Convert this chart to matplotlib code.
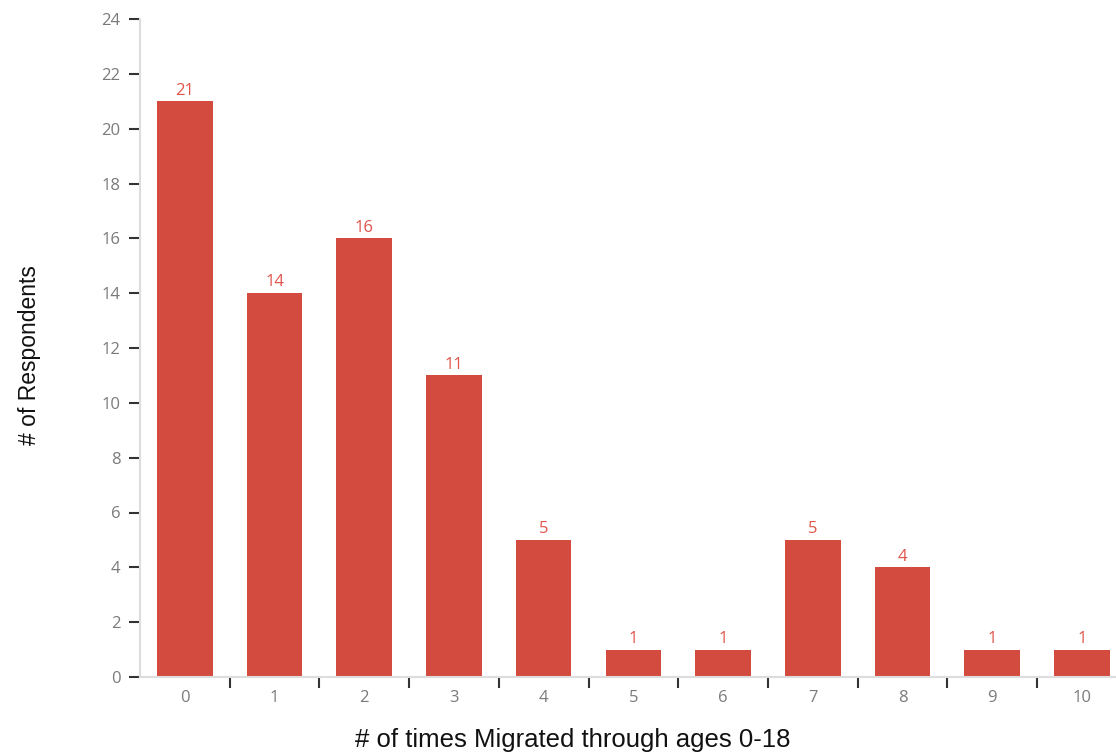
import matplotlib
matplotlib.use("Agg")
import matplotlib.pyplot as plt
import numpy as np

categories = ["0", "1", "2", "3", "4", "5", "6", "7", "8", "9", "10"]
counts = [21, 14, 16, 11, 5, 1, 1, 5, 4, 1, 1]
yticks = list(range(0, 25, 2))

bar_color = "#d34a3f"
label_color = "#e0544a"

fig = plt.figure(figsize=(11.16, 7.56), dpi=100)
W, H = 1116, 756
left, right, top, bottom = 140, 1116, 19, 677
ax = fig.add_axes([left / W, 1 - bottom / H, (right - left) / W, (bottom - top) / H])

x = np.arange(len(categories))
ax.bar(x, counts, width=0.62, color=bar_color, zorder=2)

for xi, v in zip(x, counts):
    ax.text(xi, v + 0.1, str(v), ha="center", va="bottom", color=label_color,
            fontsize=12, family="Open Sans")

ax.set_xlim(-0.5, -0.5 + (right - left) / 89.7)
ax.set_ylim(0, 24)
ax.set_yticks(yticks)
ax.set_yticklabels([str(t) for t in yticks], family="Open Sans", fontsize=12, color="#7a7a7a")
ax.set_xticks(x)
ax.set_xticklabels(categories, family="Open Sans", fontsize=12, color="#7a7a7a")
ax.set_xticks(x[:-1] + 0.5, minor=True)

ax.tick_params(axis="x", which="major", length=0, pad=9)
ax.tick_params(axis="x", which="minor", length=8, width=1.5, color="#333333", direction="out")
ax.tick_params(axis="y", which="major", length=8, width=1.5, color="#333333", pad=6)

for s in ["top", "right"]:
    ax.spines[s].set_visible(False)
ax.spines["left"].set_color("#dddddd")
ax.spines["bottom"].set_color("#dddddd")
ax.spines["left"].set_linewidth(1.5)
ax.spines["bottom"].set_linewidth(1.5)

fig.text(573 / W, 1 - 740 / H, "# of times Migrated through ages 0-18", ha="center", va="center",
         fontsize=18.5, family="Liberation Sans", color="#111111")
fig.text(30 / W, 1 - 355 / H, "# of Respondents", ha="center", va="center", rotation=90,
         fontsize=16.5, family="Liberation Sans", color="#111111")

fig.savefig("out.png", dpi=100)
